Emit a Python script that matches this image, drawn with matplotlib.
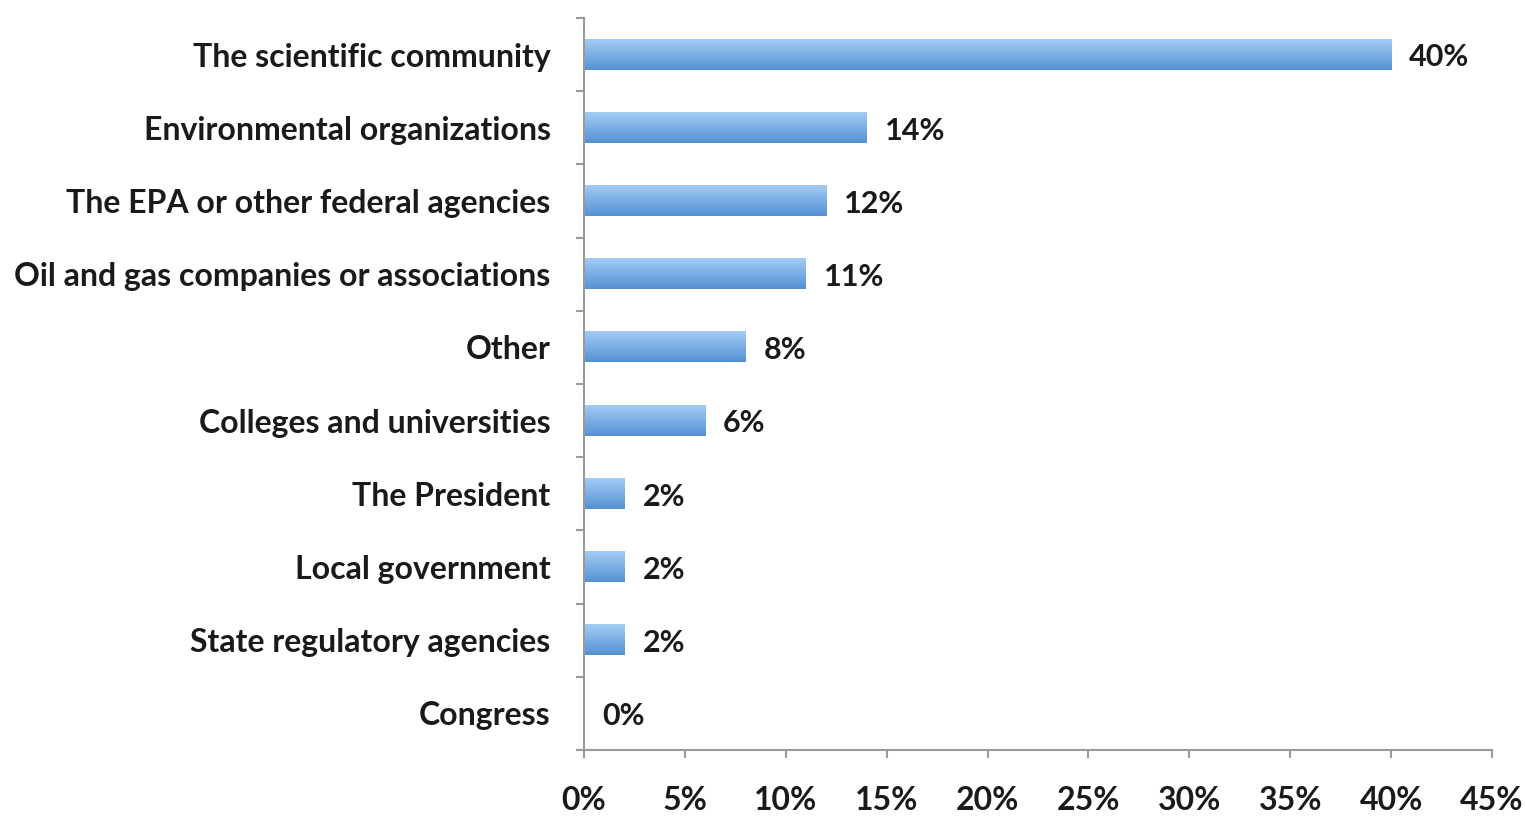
import numpy as np
import matplotlib
matplotlib.use("Agg")
import matplotlib.pyplot as plt
from matplotlib.ticker import FixedLocator, FuncFormatter

# Sources ranked by share of respondents
categories = [
    "The scientific community",
    "Environmental organizations",
    "The EPA or other federal agencies",
    "Oil and gas companies or associations",
    "Other",
    "Colleges and universities",
    "The President",
    "Local government",
    "State regulatory agencies",
    "Congress",
]
values = [40, 14, 12, 11, 8, 6, 2, 2, 2, 0]
xticks = [0, 5, 10, 15, 20, 25, 30, 35, 40, 45]

plt.rcParams["font.family"] = ["Lato", "DejaVu Sans"]
plt.rcParams["font.weight"] = "bold"

fig = plt.figure(figsize=(15.26, 8.16), dpi=100)
ax = fig.add_axes([0.3827, 0.0809, 0.5950, 0.8971])

n = len(categories)
ypos = np.arange(n)
bar_h = 0.41

# Vertical gradient used to fill each bar (light on top, darker below)
top = np.array([0.64, 0.80, 0.96])
bot = np.array([0.33, 0.57, 0.83])
t = np.linspace(0, 1, 64)[:, None]
grad = (top[None, :] * (1 - t) + bot[None, :] * t)[:, None, :]

for y, v in zip(ypos, values):
    if v > 0:
        ax.imshow(grad, extent=(0, v, y + bar_h / 2, y - bar_h / 2),
                  aspect="auto", interpolation="bilinear", zorder=2)
    ax.annotate(f"{v}%", xy=(v, y), xytext=(13, -2), textcoords="offset points",
                ha="left", va="center", fontsize=22, fontweight="bold",
                color="#1a1a1a")

ax.set_xlim(0, 45)
ax.set_ylim(n - 0.5, -0.5)

ax.set_xticks(xticks)
ax.xaxis.set_major_formatter(FuncFormatter(lambda x, p: f"{int(x)}%"))
ax.set_yticks(ypos)
ax.set_yticklabels(categories)
ax.yaxis.set_minor_locator(FixedLocator(np.arange(-0.5, n, 1.0)))

for s in ["top", "right"]:
    ax.spines[s].set_visible(False)
for s in ["left", "bottom"]:
    ax.spines[s].set_color("#9a9a9a")
    ax.spines[s].set_linewidth(1.5)

ax.tick_params(axis="y", which="major", length=0, pad=24, labelsize=23,
               labelcolor="#1a1a1a")
ax.tick_params(axis="y", which="minor", length=6, width=1.5, color="#9a9a9a")
ax.tick_params(axis="x", which="major", length=6, width=1.5, color="#9a9a9a",
               pad=20, labelsize=23, labelcolor="#1a1a1a")
for lbl in ax.get_xticklabels() + ax.get_yticklabels():
    lbl.set_fontweight("bold")

fig.savefig("out.png", dpi=100, facecolor="white")
